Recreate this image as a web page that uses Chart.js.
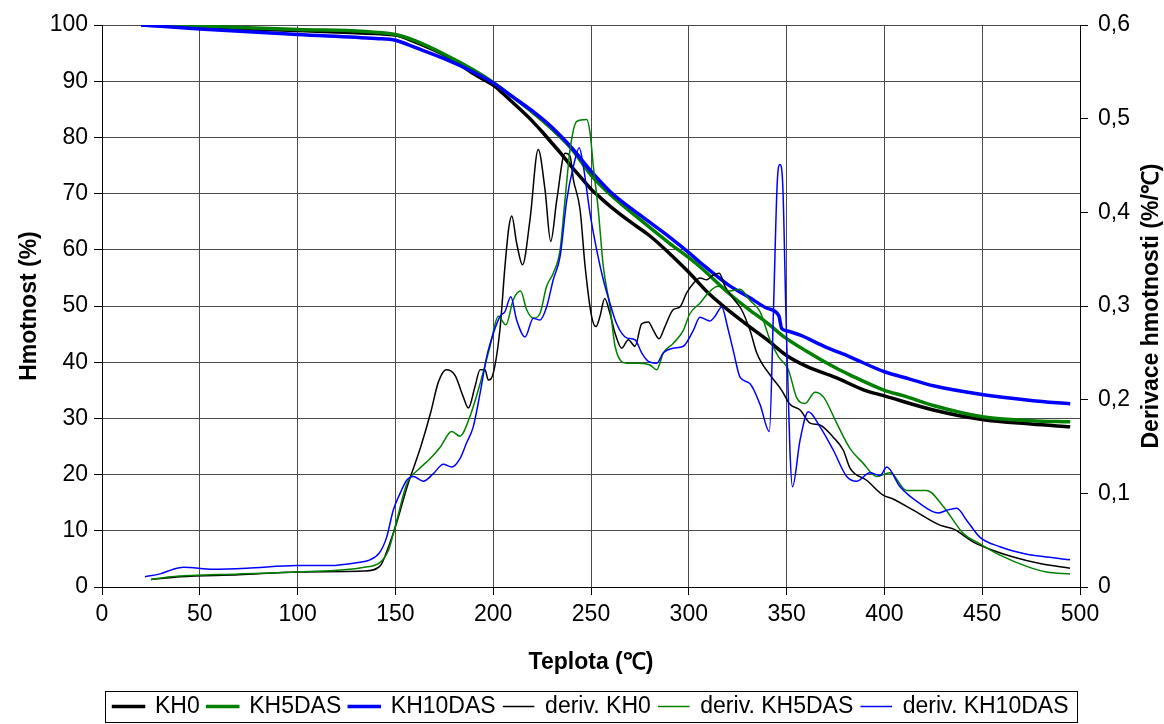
<!DOCTYPE html>
<html>
<head>
<meta charset="utf-8">
<title>TGA KH0 / KH5DAS / KH10DAS</title>
<script src="https://cdn.jsdelivr.net/npm/chart.js@4.4.0/dist/chart.umd.min.js"></script>
<style>
  html, body { margin: 0; padding: 0; background: #ffffff; }
</style>
</head>
<body>
<canvas id="tgaChart" width="1164" height="724"></canvas>
<script>
// Mass loss curves (Hmotnost, %) vs temperature (°C)
const kh0Temp = [20, 50, 100, 130, 150, 160, 170, 180, 190, 200, 205, 210, 215, 220, 225, 230, 235, 240, 245, 250, 255, 260, 270, 280, 290, 300, 310, 320, 330, 340, 350, 360, 375, 390, 400, 425, 450, 475, 495];
const kh0Mass = [100, 99.6, 99.0, 98.6, 98.2, 97.0, 95.5, 93.7, 91.3, 89.3, 87.8, 86.2, 84.6, 82.9, 81.0, 79.0, 77.0, 74.8, 72.8, 70.8, 69.2, 67.7, 65.0, 62.5, 59.4, 56.0, 52.3, 49.3, 46.6, 44.0, 41.2, 39.3, 37.3, 35.0, 34.0, 31.5, 29.8, 29.0, 28.5];

const kh5Temp = [20, 50, 100, 150, 160, 175, 190, 200, 210, 220, 230, 240, 250, 260, 275, 290, 300, 306, 320, 331, 340, 348, 360, 375, 382, 400, 410, 425, 450, 475, 495];
const kh5Mass = [100, 99.8, 99.2, 98.3, 97.2, 94.8, 92.0, 89.8, 87.2, 84.5, 81.5, 78.0, 73.3, 69.8, 65.4, 61.2, 58.6, 56.9, 52.4, 49.3, 47.0, 44.7, 42.0, 39.0, 37.8, 35.0, 34.0, 32.3, 30.3, 29.6, 29.4];

const kh10Temp = [20, 50, 100, 140, 150, 160, 175, 190, 200, 210, 220, 230, 240, 250, 260, 275, 290, 300, 306, 320, 331, 340, 346, 347.5, 350, 357, 370, 382, 400, 413, 425, 449, 475, 495];
const kh10Mass = [100, 99.3, 98.3, 97.6, 97.3, 96.0, 94.0, 91.6, 89.7, 87.2, 84.7, 81.8, 78.2, 74.0, 70.3, 66.2, 62.3, 59.5, 57.7, 53.8, 51.5, 49.6, 48.3, 46.0, 45.6, 44.8, 42.7, 41.0, 38.3, 37.0, 35.8, 34.3, 33.2, 32.6];

// Derivative curves (Derivace hmotnosti, %/°C)
const dKh0Temp = [25, 40, 70, 100, 134, 142, 147, 151, 156, 163, 168, 172, 176, 180.5, 184.7, 187.3, 190.7, 193.3, 195.8, 197.5, 200, 203.5, 206, 208, 209.5, 212, 215, 218.8, 223, 226.5, 229.4, 232.5, 236.7, 239.3, 241, 244.4, 247, 250.3, 252.6, 254.6, 257, 259.7, 262.3, 265.7, 269.1, 272.5, 275.9, 279.3, 281.9, 284.8, 287.8, 292, 295.5, 298.9, 302.3, 305.7, 309.1, 312.5, 315.6, 318.5, 322.8, 327, 331.3, 334.7, 337.3, 342.4, 347.5, 351.7, 356.9, 362, 367, 373.8, 379, 382.4, 390.9, 399.4, 404.4, 414.8, 428.4, 435.2, 445.5, 455.7, 465.9, 479.5, 494.9];
const dKh0 = [0.008, 0.011, 0.013, 0.016, 0.017, 0.022, 0.046, 0.071, 0.107, 0.150, 0.186, 0.219, 0.232, 0.226, 0.203, 0.191, 0.214, 0.232, 0.232, 0.221, 0.228, 0.276, 0.342, 0.384, 0.396, 0.367, 0.344, 0.392, 0.467, 0.424, 0.369, 0.413, 0.463, 0.460, 0.435, 0.403, 0.342, 0.289, 0.278, 0.289, 0.308, 0.292, 0.271, 0.255, 0.264, 0.257, 0.281, 0.283, 0.274, 0.265, 0.278, 0.296, 0.299, 0.314, 0.324, 0.330, 0.328, 0.333, 0.335, 0.321, 0.308, 0.296, 0.274, 0.250, 0.239, 0.224, 0.210, 0.195, 0.189, 0.175, 0.173, 0.160, 0.146, 0.127, 0.114, 0.098, 0.094, 0.082, 0.066, 0.062, 0.048, 0.039, 0.032, 0.025, 0.020];

const dKh5Temp = [25, 35, 70, 100, 134, 142, 146.4, 150.7, 155.8, 162.6, 167.7, 172.8, 178.8, 183, 188.1, 193.3, 198.4, 202.6, 206.5, 210.3, 214, 217.1, 220.5, 223.9, 227.3, 230.7, 234.2, 236.7, 239.3, 242.7, 247.8, 249.5, 251.2, 253.7, 256.3, 259.7, 262.3, 268.2, 275, 280.2, 283.6, 287, 292, 297.2, 300.6, 305.7, 310, 315, 321, 326.2, 331.3, 336.4, 341.5, 345.8, 350.9, 355.2, 359.4, 364.5, 368.8, 375.6, 382.4, 389.2, 396, 402.9, 411.4, 421.6, 430.1, 440.4, 448.9, 459.1, 472.8, 483, 494.9];
const dKh5 = [0.008, 0.011, 0.014, 0.016, 0.021, 0.026, 0.039, 0.071, 0.110, 0.127, 0.137, 0.149, 0.166, 0.161, 0.182, 0.217, 0.257, 0.289, 0.280, 0.307, 0.316, 0.296, 0.287, 0.292, 0.321, 0.335, 0.360, 0.413, 0.467, 0.497, 0.499, 0.485, 0.449, 0.403, 0.342, 0.299, 0.257, 0.239, 0.239, 0.237, 0.232, 0.250, 0.260, 0.274, 0.292, 0.303, 0.314, 0.321, 0.316, 0.318, 0.306, 0.294, 0.264, 0.246, 0.232, 0.202, 0.196, 0.208, 0.203, 0.175, 0.148, 0.132, 0.118, 0.122, 0.103, 0.103, 0.086, 0.057, 0.046, 0.034, 0.022, 0.016, 0.014];

const dKh10Temp = [22, 29.7, 36.5, 41.6, 56.9, 74, 99.5, 116.6, 130.2, 137, 142, 145.5, 148.9, 152.4, 155.8, 159.2, 164.3, 169.4, 174.5, 178.8, 183, 186.4, 189.8, 193.3, 196.7, 200.1, 203.5, 206, 209, 212, 216.3, 220.5, 223.9, 227.3, 230.7, 234.2, 237.6, 241, 244, 246.1, 249.5, 252.9, 256.3, 259.7, 263.1, 268.2, 272.5, 275.9, 279.3, 283.6, 287, 292, 297.2, 302.3, 305.7, 310.8, 313.4, 316.8, 320, 323, 326.2, 331.3, 336.4, 341.2, 343.2, 345.2, 346.6, 348, 349.7, 351.7, 353, 356.9, 361.1, 367.1, 373.9, 380.7, 385.8, 392.6, 397.8, 401.2, 408, 418.2, 427.6, 431.9, 437, 442.1, 448.9, 459.1, 472.8, 483, 494.9];
const dKh10 = [0.011, 0.014, 0.019, 0.021, 0.019, 0.020, 0.023, 0.023, 0.026, 0.029, 0.037, 0.053, 0.082, 0.100, 0.114, 0.118, 0.113, 0.121, 0.131, 0.128, 0.137, 0.154, 0.171, 0.207, 0.246, 0.271, 0.289, 0.294, 0.310, 0.285, 0.267, 0.287, 0.285, 0.299, 0.328, 0.353, 0.413, 0.449, 0.469, 0.449, 0.399, 0.360, 0.328, 0.303, 0.281, 0.266, 0.264, 0.250, 0.241, 0.239, 0.250, 0.255, 0.257, 0.274, 0.288, 0.284, 0.289, 0.299, 0.276, 0.250, 0.224, 0.217, 0.195, 0.166, 0.289, 0.431, 0.451, 0.431, 0.289, 0.146, 0.107, 0.157, 0.187, 0.171, 0.146, 0.118, 0.113, 0.122, 0.119, 0.128, 0.107, 0.089, 0.079, 0.082, 0.084, 0.071, 0.053, 0.043, 0.035, 0.032, 0.029];

const tgaFont = "'Liberation Sans', Arial, sans-serif";

function toPoints(temps, values) {
    return temps.map((t, i) => ({ x: t, y: values[i] }));
}

function lineSeries(label, temps, values, color, width, axis, order) {
    return {
        label: label,
        data: toPoints(temps, values),
        borderColor: color,
        backgroundColor: color,
        borderWidth: width,
        yAxisID: axis,
        order: order,
        fill: false,
        pointRadius: 0,
        pointHoverRadius: 0,
        cubicInterpolationMode: 'monotone'
    };
}

const tgaChartCtx = document.getElementById('tgaChart').getContext('2d');

const tgaChartData = {
    datasets: [
        lineSeries('KH0', kh0Temp, kh0Mass, '#000000', 3.5, 'y', 6),
        lineSeries('KH5DAS', kh5Temp, kh5Mass, '#008000', 3.5, 'y', 5),
        lineSeries('KH10DAS', kh10Temp, kh10Mass, '#0000ff', 3.5, 'y', 4),
        lineSeries('deriv. KH0', dKh0Temp, dKh0, '#000000', 1.5, 'y1', 3),
        lineSeries('deriv. KH5DAS', dKh5Temp, dKh5, '#008000', 1.5, 'y1', 2),
        lineSeries('deriv. KH10DAS', dKh10Temp, dKh10, '#0000ff', 1.5, 'y1', 1)
    ]
};

// right axis title reads bottom-to-top, so it is drawn here instead of scale.title
const rightTitlePlugin = {
    id: 'rightTitle',
    afterDraw(chart) {
        const { ctx, chartArea } = chart;
        ctx.save();
        ctx.translate(1152, (chartArea.top + chartArea.bottom) / 2);
        ctx.rotate(-Math.PI / 2);
        ctx.font = 'bold 23px ' + tgaFont;
        ctx.fillStyle = '#000000';
        ctx.textAlign = 'center';
        ctx.textBaseline = 'middle';
        ctx.fillText('Derivace hmotnosti (%/℃)', 0, 0);
        ctx.restore();
    }
};

// thin frame round the legend
const legendFramePlugin = {
    id: 'legendFrame',
    afterDraw(chart) {
        const boxes = chart.legend && chart.legend.legendHitBoxes;
        if (!boxes || !boxes.length) return;
        const left = Math.min(...boxes.map(b => b.left)) - 9;
        const right = Math.max(...boxes.map(b => b.left + b.width)) + 8;
        const top = Math.min(...boxes.map(b => b.top)) - 4;
        const ctx = chart.ctx;
        ctx.save();
        ctx.strokeStyle = '#000000';
        ctx.lineWidth = 1;
        ctx.strokeRect(Math.round(left) + 0.5, Math.round(top) + 0.5, Math.round(right - left), 722 - Math.round(top));
        ctx.restore();
    }
};

const tgaChartOptions = {
    responsive: false,
    animation: false,
    layout: {
        padding: { top: 25, right: 0, bottom: -4, left: 0 }
    },
    plugins: {
        legend: {
            display: true,
            position: 'bottom',
            fullSize: false,
            labels: {
                boxWidth: 30,
                boxHeight: 0.001,
                padding: 8,
                color: '#000000',
                font: { family: tgaFont, size: 23 },
                sort: (a, b) => a.datasetIndex - b.datasetIndex
            }
        },
        tooltip: { enabled: false }
    },
    scales: {
        x: {
            type: 'linear',
            min: 0,
            max: 500,
            afterFit: (scale) => { scale.height = 100; },
            ticks: {
                stepSize: 50,
                color: '#000000',
                padding: 6,
                font: { family: tgaFont, size: 23 }
            },
            grid: {
                color: '#4a4a4a',
                tickColor: '#000000',
                tickLength: 8
            },
            border: { color: '#000000' },
            title: {
                display: true,
                text: 'Teplota (℃)',
                color: '#000000',
                padding: { top: 0, bottom: 11 },
                font: { family: tgaFont, size: 23, weight: 'bold' }
            }
        },
        y: {
            position: 'left',
            min: 0,
            max: 100,
            afterFit: (scale) => { scale.width = 102; },
            ticks: {
                stepSize: 10,
                color: '#000000',
                padding: 6,
                font: { family: tgaFont, size: 23 }
            },
            grid: {
                color: '#4a4a4a',
                tickColor: '#000000',
                tickLength: 8
            },
            border: { color: '#000000' },
            title: {
                display: true,
                text: 'Hmotnost (%)',
                color: '#000000',
                padding: { top: 16, bottom: 0 },
                font: { family: tgaFont, size: 23, weight: 'bold' }
            }
        },
        y1: {
            position: 'right',
            min: 0,
            max: 0.6,
            afterFit: (scale) => { scale.width = 84; },
            ticks: {
                stepSize: 0.1,
                color: '#000000',
                padding: 10,
                font: { family: tgaFont, size: 23 },
                callback: (value) => value === 0 ? '0' : value.toFixed(1).replace('.', ',')
            },
            grid: {
                drawOnChartArea: false,
                tickColor: '#000000',
                tickLength: 8
            },
            border: { color: '#000000' }
        }
    }
};

new Chart(tgaChartCtx, {
    type: 'line',
    data: tgaChartData,
    options: tgaChartOptions,
    plugins: [rightTitlePlugin, legendFramePlugin]
});
</script>
</body>
</html>
